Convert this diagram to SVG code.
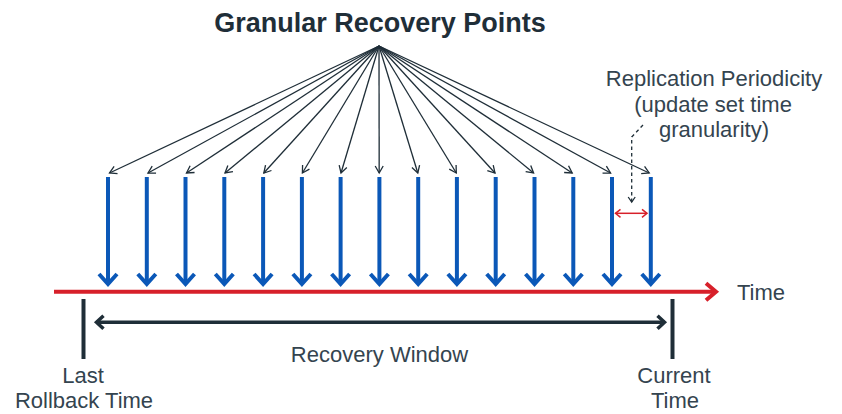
<svg xmlns="http://www.w3.org/2000/svg" width="842" height="414" viewBox="0 0 842 414">
<style>
.title{font-family:"Liberation Sans",Arial,sans-serif;font-weight:bold;font-size:27px;fill:#1f2e38;text-anchor:middle}
.lbl{font-family:"Liberation Sans",Arial,sans-serif;font-size:22px;fill:#34444f}
.mid{text-anchor:middle}
.fan{stroke:#1f2e38;stroke-width:1.3;fill:none;marker-end:url(#mFan)}
.rp{stroke:#0b58b8;stroke-width:4;fill:none;marker-end:url(#mBlue)}
.axis{stroke:#d7202a;stroke-width:4;fill:none;marker-end:url(#mRed)}
.tick{stroke:#1f2e38;stroke-width:4;fill:none}
.win{stroke:#1f2e38;stroke-width:3.5;fill:none;marker-start:url(#mWin);marker-end:url(#mWin)}
.per{stroke:#d7202a;stroke-width:1.5;fill:none;marker-start:url(#mPer);marker-end:url(#mPer)}
.dash{stroke:#1f2e38;stroke-width:1.3;fill:none;stroke-dasharray:3.5 3;marker-end:url(#mDash)}
</style>
<defs>
<marker id="mFan" markerUnits="userSpaceOnUse" orient="auto" viewBox="-10 -10 20 20" markerWidth="20" markerHeight="20" refX="0" refY="0" overflow="visible">
<path d="M-7,-4 L0,0 L-7,4" fill="none" stroke="#1f2e38" stroke-width="1.3"/>
</marker>
<marker id="mBlue" markerUnits="userSpaceOnUse" orient="auto" viewBox="-20 -20 40 40" markerWidth="40" markerHeight="40" refX="0" refY="0" overflow="visible">
<path d="M-10,-9 L0,0 L-10,9" fill="none" stroke="#0b58b8" stroke-width="4"/>
</marker>
<marker id="mRed" markerUnits="userSpaceOnUse" orient="auto" viewBox="-20 -20 40 40" markerWidth="40" markerHeight="40" refX="0" refY="0" overflow="visible">
<path d="M-10,-8.5 L0,0 L-10,8.5" fill="none" stroke="#d7202a" stroke-width="4"/>
</marker>
<marker id="mWin" markerUnits="userSpaceOnUse" orient="auto-start-reverse" viewBox="-20 -20 40 40" markerWidth="40" markerHeight="40" refX="0" refY="0" overflow="visible">
<path d="M-7,-6.5 L0,0 L-7,6.5" fill="none" stroke="#1f2e38" stroke-width="3.5"/>
</marker>
<marker id="mPer" markerUnits="userSpaceOnUse" orient="auto-start-reverse" viewBox="-10 -10 20 20" markerWidth="20" markerHeight="20" refX="0" refY="0" overflow="visible">
<path d="M-5,-4 L0,0 L-5,4" fill="none" stroke="#d7202a" stroke-width="1.5"/>
</marker>
<marker id="mDash" markerUnits="userSpaceOnUse" orient="auto" viewBox="-10 -10 20 20" markerWidth="20" markerHeight="20" refX="0" refY="0" overflow="visible">
<path d="M-5,-3.5 L0,0 L-5,3.5" fill="none" stroke="#1f2e38" stroke-width="1.3"/>
</marker>
</defs>

<g id="title">
<text class="title" x="380" y="32">Granular Recovery Points</text>
</g>

<g id="recovery-points">
<path class="rp" d="M108,177 V284"/>
<path class="rp" d="M146.8,177 V284"/>
<path class="rp" d="M185.5,177 V284"/>
<path class="rp" d="M224.3,177 V284"/>
<path class="rp" d="M263.1,177 V284"/>
<path class="rp" d="M301.9,177 V284"/>
<path class="rp" d="M340.6,177 V284"/>
<path class="rp" d="M379.4,177 V284"/>
<path class="rp" d="M418.2,177 V284"/>
<path class="rp" d="M456.9,177 V284"/>
<path class="rp" d="M495.7,177 V284"/>
<path class="rp" d="M534.5,177 V284"/>
<path class="rp" d="M573.3,177 V284"/>
<path class="rp" d="M612,177 V284"/>
<path class="rp" d="M650.8,177 V284"/>
</g>

<g id="connectors">
<path class="fan" d="M379,46 L109.5,173"/>
<path class="fan" d="M379,46 L148,173"/>
<path class="fan" d="M379,46 L186.5,173"/>
<path class="fan" d="M379,46 L225,173"/>
<path class="fan" d="M379,46 L263.8,173"/>
<path class="fan" d="M379,46 L302.4,173"/>
<path class="fan" d="M379,46 L341,173"/>
<path class="fan" d="M379,46 L379.2,173"/>
<path class="fan" d="M379,46 L417.8,173"/>
<path class="fan" d="M379,46 L456.3,173"/>
<path class="fan" d="M379,46 L495,173"/>
<path class="fan" d="M379,46 L533.6,173"/>
<path class="fan" d="M379,46 L572.2,173"/>
<path class="fan" d="M379,46 L610.6,173"/>
<path class="fan" d="M379,46 L649.2,173"/>
<path class="dash" d="M643,125 L631.7,137 L631.7,202"/>
</g>

<g id="timeline">
<path class="axis" d="M54,291.8 H716"/>
<text class="lbl" x="737" y="300">Time</text>
</g>

<g id="last-rollback">
<path class="tick" d="M83.5,299 V359"/>
<text class="lbl mid" x="83" y="383">Last</text>
<text class="lbl mid" x="84" y="408">Rollback Time</text>
</g>

<g id="current-time">
<path class="tick" d="M672.5,299 V359"/>
<text class="lbl mid" x="674" y="383">Current</text>
<text class="lbl mid" x="675" y="408">Time</text>
</g>

<g id="recovery-window">
<path class="win" d="M96.5,322.3 H664.5"/>
<text class="lbl mid" x="379.5" y="362">Recovery Window</text>
</g>

<g id="replication-periodicity">
<path class="per" d="M615.5,213.3 H647"/>
<text class="lbl mid" x="714" y="86">Replication Periodicity</text>
<text class="lbl mid" x="713" y="112">(update set time</text>
<text class="lbl mid" x="714" y="137">granularity)</text>
</g>
</svg>
